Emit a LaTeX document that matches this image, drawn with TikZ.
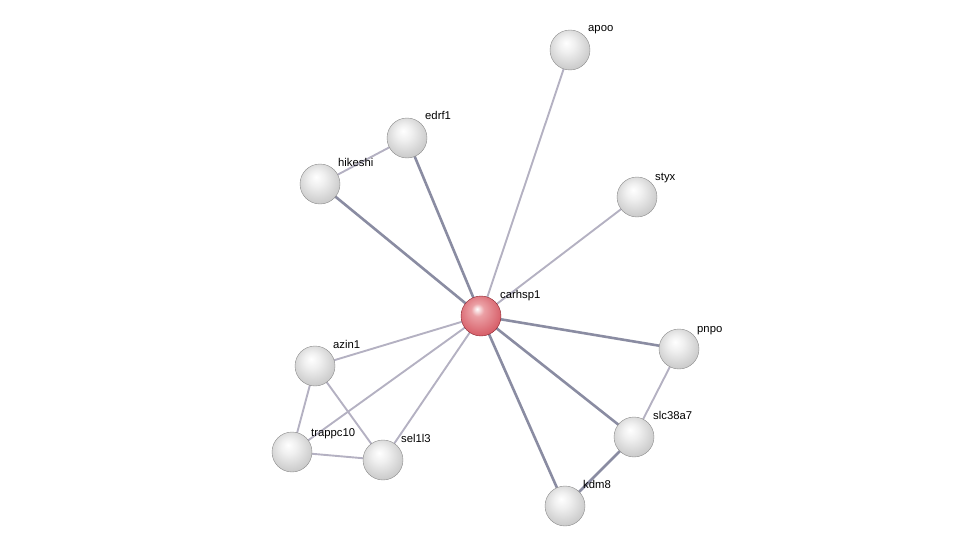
\documentclass[tikz,border=0pt]{standalone}
\usepackage{fontspec}
\setmainfont{Liberation Sans}
\pgfdeclarelayer{background}
\pgfsetlayers{background,main}
\pgfdeclareradialshading{grayball}{\pgfpoint{-5bp}{9bp}}{color(0bp)=(white); color(10bp)=(black!6); color(30bp)=(black!22); color(44bp)=(black!38); color(50bp)=(black!48)}
\pgfdeclareradialshading{redball}{\pgfpoint{-5bp}{9bp}}{color(0bp)=(white); color(8bp)=({rgb,255:red,235;green,160;blue,165}); color(28bp)=({rgb,255:red,215;green,95;blue,105}); color(44bp)=({rgb,255:red,185;green,60;blue,72}); color(50bp)=({rgb,255:red,160;green,45;blue,55})}
\begin{document}
\begin{tikzpicture}[x=1pt,y=-1pt,
  prot/.style={circle,minimum size=40pt,inner sep=0pt,draw=black!45,line width=0.4pt,shading=grayball},
  query/.style={prot,shading=redball,draw={rgb,255:red,140;green,40;blue,50}},
  lbl/.style={anchor=base west,font=\fontsize{11.3pt}{13pt}\selectfont,inner sep=0pt},
  strong/.style={draw={rgb,255:red,138;green,140;blue,162},line width=2.6pt},
  weak/.style={draw={rgb,255:red,180;green,177;blue,194},line width=1.9pt}]
\useasboundingbox (0,0) rectangle (976,551);
\node[query] (carhsp1) at (481,316) {};
\node[prot] (apoo) at (570,50) {};
\node[prot] (edrf1) at (407,138) {};
\node[prot] (hikeshi) at (320,184) {};
\node[prot] (styx) at (637,197) {};
\node[prot] (pnpo) at (679,349) {};
\node[prot] (slc38a7) at (634,437) {};
\node[prot] (kdm8) at (565,506) {};
\node[prot] (azin1) at (315,366) {};
\node[prot] (trappc10) at (292,452) {};
\node[prot] (sel1l3) at (383,460) {};
\node[lbl] (lcarhsp1) at (500,298) {carhsp1};
\node[lbl] (lapoo) at (588,32) {apoo};
\node[lbl] (ledrf1) at (425,119) {edrf1};
\node[lbl] (lhikeshi) at (338,166) {hikeshi};
\node[lbl] (lstyx) at (655,180) {styx};
\node[lbl] (lpnpo) at (697,332) {pnpo};
\node[lbl] (lslc38a7) at (653,419) {slc38a7};
\node[lbl] (lkdm8) at (583,488) {kdm8};
\node[lbl] (lazin1) at (333,348) {azin1};
\node[lbl] (ltrappc10) at (311,436) {trappc10};
\node[lbl] (lsel1l3) at (401,442) {sel1l3};
\begin{pgfonlayer}{background}
\draw[weak] (carhsp1.center) -- (apoo.center);
\draw[weak] (carhsp1.center) -- (styx.center);
\draw[strong] (carhsp1.center) -- (edrf1.center);
\draw[strong] (carhsp1.center) -- (hikeshi.center);
\draw[weak] (hikeshi.center) -- (edrf1.center);
\draw[strong] (carhsp1.center) -- (pnpo.center);
\draw[strong] (carhsp1.center) -- (slc38a7.center);
\draw[strong] (carhsp1.center) -- (kdm8.center);
\draw[strong] (slc38a7.center) -- (kdm8.center);
\draw[weak] (pnpo.center) -- (slc38a7.center);
\draw[weak] (carhsp1.center) -- (azin1.center);
\draw[weak] (carhsp1.center) -- (trappc10.center);
\draw[weak] (carhsp1.center) -- (sel1l3.center);
\draw[weak] (azin1.center) -- (trappc10.center);
\draw[weak] (azin1.center) -- (sel1l3.center);
\draw[weak] (trappc10.center) -- (sel1l3.center);
\end{pgfonlayer}
\end{tikzpicture}
\end{document}
